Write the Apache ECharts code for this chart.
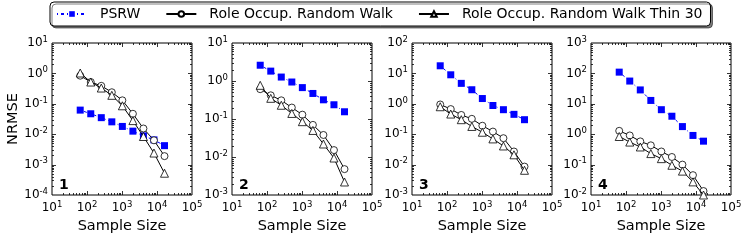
<!DOCTYPE html>
<html>
<head>
<meta charset="utf-8">
<script src="https://cdn.jsdelivr.net/npm/echarts@6/dist/echarts.min.js"></script>
<style>html,body{margin:0;padding:0;background:#fff}#c{width:747px;height:249px}</style>
</head>
<body>
<div id="c"></div>
<script>
// ---- data ----
const sampleSizes = [64, 128, 256, 512, 1024, 2048, 4096, 8192, 16384];
const seriesNames = ['PSRW', 'Role Occup. Random Walk', 'Role Occup. Random Walk Thin 30'];
const panelLabels = ['1', '2', '3', '4'];
const yMinExp = [-4, -3, -3, -2];
const yMaxExp = [1, 1, 2, 3];
const xMinExp = 1, xMaxExp = 5;

const psrw1 = [0.062, 0.047, 0.035, 0.0255, 0.018, 0.0126, 0.0088, 0.0065, 0.0042];
const row1  = [0.84, 0.52, 0.39, 0.24, 0.13, 0.047, 0.0154, 0.0063, 0.0019];
const thin1 = [1.03, 0.52, 0.33, 0.19, 0.086, 0.028, 0.0084, 0.0024, 0.00052];

const psrw2 = [2.6, 1.82, 1.27, 0.94, 0.67, 0.47, 0.32, 0.237, 0.155];
const row2  = [0.61, 0.42, 0.31, 0.20, 0.13, 0.070, 0.038, 0.0152, 0.0048];
const thin2 = [0.77, 0.35, 0.23, 0.14, 0.085, 0.050, 0.022, 0.0094, 0.0022];

const psrw3 = [17.8, 9.0, 4.7, 2.9, 1.49, 0.88, 0.64, 0.45, 0.30];
const row3  = [0.95, 0.67, 0.43, 0.32, 0.19, 0.122, 0.074, 0.027, 0.0086];
const thin3 = [0.80, 0.46, 0.30, 0.18, 0.116, 0.070, 0.041, 0.021, 0.0065];

const psrw4 = [110, 56, 28.6, 12.9, 6.4, 3.9, 1.78, 0.91, 0.59];
const row4  = [1.29, 0.91, 0.58, 0.43, 0.27, 0.178, 0.10, 0.045, 0.0135];
const thin4 = [0.84, 0.55, 0.38, 0.23, 0.157, 0.095, 0.061, 0.027, 0.0100];

const panels = [[psrw1, row1, thin1], [psrw2, row2, thin2], [psrw3, row3, thin3], [psrw4, row4, thin4]];

// ---- layout ----
const FONT = 'DejaVu Sans';
const gridLefts = [52, 232, 412, 591];
const gridTop = 43, gridW = 140, gridH = 152;

const chart = echarts.init(document.getElementById('c'), null, {renderer: 'canvas'});

function pow10Label(v) {
  const e = Math.round(Math.log10(v));
  return '{b|10}{s|' + e + '}';
}
const richLbl = {
  b: {fontFamily: FONT, fontSize: 12, color: '#000'},
  s: {fontFamily: FONT, fontSize: 8.5, color: '#000', verticalAlign: 'top', padding: [0, 0, 7, 0]}
};

function tickData(pi) {
  const d = [];
  const ymin = Math.pow(10, yMinExp[pi]);
  for (let e = xMinExp; e <= xMaxExp; e++) {
    for (let m = 1; m <= 9; m++) {
      const v = m * Math.pow(10, e);
      if (e === xMaxExp && m > 1) break;
      if ((e === xMinExp || e === xMaxExp) && m === 1) continue;
      d.push([v, ymin, 0, m === 1 ? 1 : 0]);
    }
  }
  for (let e = yMinExp[pi]; e <= yMaxExp[pi]; e++) {
    for (let m = 1; m <= 9; m++) {
      const v = m * Math.pow(10, e);
      if (e === yMaxExp[pi] && m > 1) break;
      if ((e === yMinExp[pi] || e === yMaxExp[pi]) && m === 1) continue;
      d.push([10, v, 1, m === 1 ? 1 : 0]);
    }
  }
  return d;
}

const grid = [], xAxis = [], yAxis = [], series = [], graphic = [];
for (let pi = 0; pi < 4; pi++) {
  grid.push({left: gridLefts[pi], top: gridTop, width: gridW, height: gridH,
    show: true, borderColor: '#000', borderWidth: 1, backgroundColor: 'transparent'});
  xAxis.push({type: 'log', logBase: 10, gridIndex: pi, min: Math.pow(10, xMinExp), max: Math.pow(10, xMaxExp),
    splitNumber: 4,
    name: 'Sample Size', nameLocation: 'middle', nameGap: 23,
    nameTextStyle: {fontFamily: FONT, fontSize: 14.5, color: '#000'},
    axisLine: {show: false}, axisTick: {show: false}, splitLine: {show: false},
    axisLabel: {formatter: pow10Label, rich: richLbl, margin: 5, showMinLabel: true, showMaxLabel: true}
  });
  yAxis.push({type: 'log', logBase: 10, gridIndex: pi, min: Math.pow(10, yMinExp[pi]), max: Math.pow(10, yMaxExp[pi]),
    splitNumber: yMaxExp[pi] - yMinExp[pi],
    name: pi === 0 ? 'NRMSE' : '', nameLocation: 'middle', nameGap: 31,
    nameTextStyle: {fontFamily: FONT, fontSize: 14.5, color: '#000'},
    axisLine: {show: false}, axisTick: {show: false}, splitLine: {show: false},
    axisLabel: {formatter: pow10Label, rich: richLbl, margin: 4, showMinLabel: true, showMaxLabel: true}
  });
  const [p, r, t] = panels[pi];
  series.push({
    name: seriesNames[0], type: 'line', xAxisIndex: pi, yAxisIndex: pi,
    data: sampleSizes.map((x, i) => [x, p[i]]),
    symbol: 'rect', symbolSize: 7,
    itemStyle: {color: '#0000ff', borderColor: '#0000ff', borderWidth: 0},
    lineStyle: {color: '#0000ff', width: 1, type: [1, 3, 3, 3]},
    z: 3, animation: false
  });
  series.push({
    name: seriesNames[1], type: 'line', xAxisIndex: pi, yAxisIndex: pi,
    data: sampleSizes.map((x, i) => [x, r[i]]),
    symbol: 'circle', symbolSize: 7,
    itemStyle: {color: '#ffffff', borderColor: '#000', borderWidth: 0.8},
    lineStyle: {color: '#000', width: 1},
    z: 4, animation: false
  });
  series.push({
    name: seriesNames[2], type: 'line', xAxisIndex: pi, yAxisIndex: pi,
    data: sampleSizes.map((x, i) => [x, t[i]]),
    symbol: 'triangle', symbolSize: 8,
    itemStyle: {color: '#ffffff', borderColor: '#000', borderWidth: 0.8},
    lineStyle: {color: '#000', width: 1},
    z: 5, animation: false
  });
  // inward tick marks on all four sides (positions from the axes' own scales)
  series.push({
    type: 'custom', xAxisIndex: pi, yAxisIndex: pi, silent: true, clip: false, animation: false, z: 6,
    data: tickData(pi),
    renderItem: function (params, api) {
      const cs = params.coordSys;
      const kind = api.value(2), major = api.value(3);
      const len = major ? 4 : 2;
      const pt = api.coord([api.value(0), api.value(1)]);
      const st = {stroke: '#000', lineWidth: 0.8};
      if (kind === 0) {
        const x = Math.round(pt[0]) + 0.5;
        return {type: 'group', children: [
          {type: 'line', shape: {x1: x, y1: cs.y + cs.height, x2: x, y2: cs.y + cs.height - len}, style: st},
          {type: 'line', shape: {x1: x, y1: cs.y, x2: x, y2: cs.y + len}, style: st}
        ]};
      } else {
        const y = Math.round(pt[1]) + 0.5;
        return {type: 'group', children: [
          {type: 'line', shape: {x1: cs.x, y1: y, x2: cs.x + len, y2: y}, style: st},
          {type: 'line', shape: {x1: cs.x + cs.width, y1: y, x2: cs.x + cs.width - len, y2: y}, style: st}
        ]};
      }
    }
  });
  graphic.push({type: 'text', left: gridLefts[pi] + 7, top: 178,
    style: {text: panelLabels[pi], font: 'bold 14px "DejaVu Sans"', fill: '#000'}, z: 10});
}

chart.setOption({
  animation: false,
  backgroundColor: '#fff',
  grid, xAxis, yAxis, series, graphic,
  legend: {
    data: seriesNames,
    left: 50, top: 2,
    padding: [5, 8, 5, 6],
    itemWidth: 30, itemHeight: 7, itemGap: 25,
    borderColor: '#000', borderWidth: 1, borderRadius: 4,
    backgroundColor: '#fff',
    shadowColor: 'rgba(0,0,0,0.5)', shadowOffsetX: 2, shadowOffsetY: 2, shadowBlur: 0,
    textStyle: {fontFamily: FONT, fontSize: 14, color: '#000', padding: [0, 0, 0, 8]}
  }
});
</script>
</body>
</html>
